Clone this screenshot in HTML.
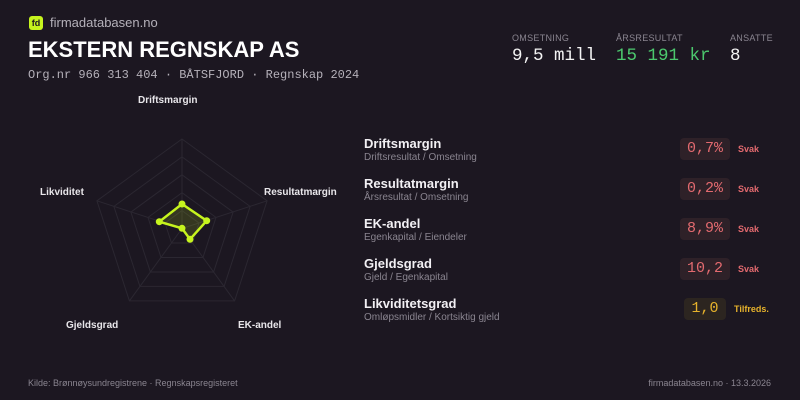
<!DOCTYPE html>
<html><head><meta charset="utf-8"><style>
*{margin:0;padding:0;box-sizing:border-box}
body{width:800px;height:400px;background:#1c1721;font-family:"Liberation Sans",sans-serif;position:relative;overflow:hidden;color:#fff}
.a{position:absolute;white-space:nowrap}
.mono{font-family:"Liberation Mono",monospace}
.lab{font-size:9px;color:#8a8590;letter-spacing:.3px}
.val{font-size:17.5px}
.nm{font-size:13px;font-weight:bold;color:#f2f0f4}
.sub{font-size:10px;color:#8a8590}
.bd{position:absolute;height:22px;border-radius:4px;background:#2e2128;color:#e36a6f;font-family:"Liberation Mono",monospace;font-size:15px;text-align:center;line-height:22px}
.st{font-size:9px;font-weight:bold;color:#e36a6f}
.ax{font-size:10px;font-weight:bold;color:#e8e6ea}
</style></head><body>
<div class="a" style="left:29px;top:16px;width:14px;height:14px;background:#c6f41e;border-radius:3px;color:#1c1721;font-size:9px;font-weight:bold;text-align:center;line-height:14px">fd</div>
<div class="a" style="left:50px;top:15px;font-size:13px;color:#b5b1ba">firmadatabasen.no</div>
<div class="a" style="left:28px;top:37px;font-size:22px;font-weight:bold;color:#fff">EKSTERN REGNSKAP AS</div>
<div class="a mono" style="left:28px;top:68px;font-size:12px;color:#b5b1ba">Org.nr 966 313 404 · BÅTSFJORD · Regnskap 2024</div>

<div class="a lab" style="left:512px;top:33px">OMSETNING</div>
<div class="a mono val" style="left:512px;top:46px;color:#f4f4f4">9,5 mill</div>
<div class="a lab" style="left:616px;top:33px">ÅRSRESULTAT</div>
<div class="a mono val" style="left:616px;top:46px;color:#4cc96e">15 191 kr</div>
<div class="a lab" style="left:730px;top:33px">ANSATTE</div>
<div class="a mono val" style="left:730px;top:46px;color:#f4f4f4">8</div>

<svg class="a" style="left:0;top:0" width="360" height="360">
<g fill="none" stroke="#2b2731" stroke-width="1">
<polygon points="182,139 267.1,200.8 234.6,300.9 129.4,300.9 96.9,200.8"/>
<polygon points="182,156.9 250.1,206.4 224.1,286.4 139.9,286.4 113.9,206.4"/>
<polygon points="182,174.8 233.1,212.1 213.6,272 150.4,272 130.9,212.1"/>
<polygon points="182,192.7 216,217.4 203,257.5 161,257.5 148,217.4"/>
<polygon points="182,210.6 199,223 192.5,243 171.5,243 165,223"/>
<line x1="182" y1="228.5" x2="182" y2="139"/><line x1="182" y1="228.5" x2="267.1" y2="200.8"/>
<line x1="182" y1="228.5" x2="234.6" y2="300.9"/><line x1="182" y1="228.5" x2="129.4" y2="300.9"/>
<line x1="182" y1="228.5" x2="96.9" y2="200.8"/>
</g>
<polygon points="182,204 206.7,220.7 190,239.3 182,228.3 159.3,221.7" fill="rgba(198,244,30,0.15)" stroke="#c6f41e" stroke-width="2.5"/>
<g fill="#c6f41e"><circle cx="182" cy="204" r="3.5"/><circle cx="206.7" cy="220.7" r="3.5"/><circle cx="190" cy="239.3" r="3.5"/><circle cx="182" cy="228.3" r="3.5"/><circle cx="159.3" cy="221.7" r="3.5"/></g>
</svg>
<div class="a ax" style="left:138px;top:95px">Driftsmargin</div>
<div class="a ax" style="left:264px;top:187px">Resultatmargin</div>
<div class="a ax" style="left:238px;top:320px">EK-andel</div>
<div class="a ax" style="left:66px;top:320px">Gjeldsgrad</div>
<div class="a ax" style="left:40px;top:187px">Likviditet</div>

<div class="a nm" style="left:364px;top:136px">Driftsmargin</div>
<div class="a sub" style="left:364px;top:152px">Driftsresultat / Omsetning</div>
<div class="a nm" style="left:364px;top:176px">Resultatmargin</div>
<div class="a sub" style="left:364px;top:192px">Årsresultat / Omsetning</div>
<div class="a nm" style="left:364px;top:216px">EK-andel</div>
<div class="a sub" style="left:364px;top:232px">Egenkapital / Eiendeler</div>
<div class="a nm" style="left:364px;top:256px">Gjeldsgrad</div>
<div class="a sub" style="left:364px;top:272px">Gjeld / Egenkapital</div>
<div class="a nm" style="left:364px;top:296px">Likviditetsgrad</div>
<div class="a sub" style="left:364px;top:312px">Omløpsmidler / Kortsiktig gjeld</div>

<div class="bd" style="left:680px;top:138px;width:50px">0,7%</div><div class="a st" style="left:738px;top:144px">Svak</div>
<div class="bd" style="left:680px;top:178px;width:50px">0,2%</div><div class="a st" style="left:738px;top:184px">Svak</div>
<div class="bd" style="left:680px;top:218px;width:50px">8,9%</div><div class="a st" style="left:738px;top:224px">Svak</div>
<div class="bd" style="left:680px;top:258px;width:50px">10,2</div><div class="a st" style="left:738px;top:264px">Svak</div>
<div class="bd" style="left:684px;top:298px;width:42px;background:#2c2520;color:#e6b22c">1,0</div><div class="a st" style="left:734px;top:304px;color:#e6b22c">Tilfreds.</div>

<div class="a" style="left:28px;top:378px;font-size:9px;color:#8a8590">Kilde: Brønnøysundregistrene · Regnskapsregisteret</div>
<div class="a" style="right:29px;top:378px;font-size:9px;color:#8a8590">firmadatabasen.no · 13.3.2026</div>
</body></html>
